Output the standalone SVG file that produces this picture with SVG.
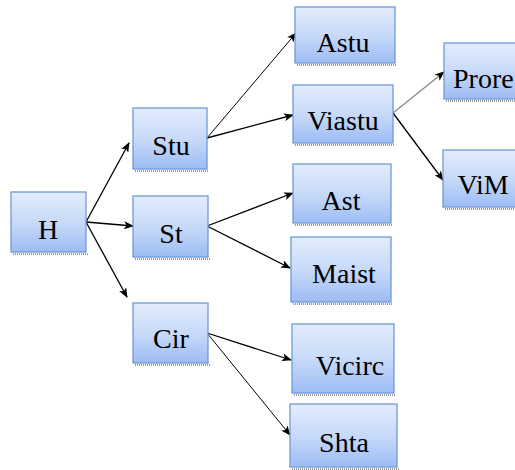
<svg xmlns="http://www.w3.org/2000/svg" width="515" height="470" viewBox="0 0 515 470">
<style>
.box{fill:url(#g);stroke:#6f9ad6;stroke-width:1.3}
.sh{fill:none;stroke:#9a9a9a;stroke-width:2;stroke-dasharray:1 1}
.t{font-family:'Liberation Serif','Times New Roman',serif;font-size:28px;fill:#000;text-anchor:middle}
.c{fill:none;stroke:#000;stroke-width:1.3;marker-end:url(#a)}
.thin{stroke-width:1}
.gray{stroke:#888}
</style>
<defs>
<linearGradient id="g" x1="0" y1="0" x2="0" y2="1">
<stop offset="0" stop-color="#e3ecfc"/>
<stop offset="0.5" stop-color="#c8daf9"/>
<stop offset="1" stop-color="#9dbcf4"/>
</linearGradient>
<marker id="a" markerUnits="userSpaceOnUse" markerWidth="10" markerHeight="8" refX="9" refY="4" orient="auto">
<path d="M0,0 L10,4 L0,8 L2.5,4 Z" fill="#000"/>
</marker>
</defs>
<g id="connectors">
<line class="c" x1="86" y1="222" x2="129" y2="143"/>
<line class="c" x1="86" y1="222" x2="133" y2="226"/>
<line class="c" x1="86" y1="222" x2="127" y2="297"/>
<line class="c thin" x1="207" y1="138" x2="296" y2="33"/>
<line class="c" x1="207" y1="138" x2="293" y2="115"/>
<line class="c gray" x1="393" y1="113" x2="444" y2="72"/>
<line class="c" x1="393" y1="113" x2="443" y2="180"/>
<line class="c" x1="207" y1="226" x2="293" y2="193"/>
<line class="c" x1="207" y1="226" x2="290" y2="268"/>
<line class="c" x1="207" y1="333" x2="291" y2="360"/>
<line class="c thin" x1="207" y1="333" x2="290" y2="435"/>
</g>
<g id="H"><line class="sh" x1="13" y1="254" x2="88" y2="254"/><rect class="box" x="11" y="192" width="75" height="60"/><text class="t" x="48" y="239">H</text></g>
<g id="Stu"><line class="sh" x1="135" y1="171" x2="209" y2="171"/><rect class="box" x="133" y="108" width="74" height="61"/><text class="t" x="171" y="155">Stu</text></g>
<g id="St"><line class="sh" x1="135" y1="259" x2="210" y2="259"/><rect class="box" x="133" y="196" width="75" height="61"/><text class="t" x="171" y="243">St</text></g>
<g id="Cir"><line class="sh" x1="135" y1="365" x2="210" y2="365"/><rect class="box" x="133" y="303" width="75" height="60"/><text class="t" x="171" y="348">Cir</text></g>
<g id="Astu"><line class="sh" x1="297" y1="65" x2="397" y2="65"/><rect class="box" x="295" y="7" width="100" height="56"/><text class="t" x="343" y="52">Astu</text></g>
<g id="Viastu"><line class="sh" x1="295" y1="145" x2="395" y2="145"/><rect class="box" x="293" y="85" width="100" height="58"/><text class="t" x="343" y="130">Viastu</text></g>
<g id="Prore"><line class="sh" x1="446" y1="101" x2="520" y2="101"/><rect class="box" x="444" y="43" width="80" height="56"/><text class="t" x="453" y="88" style="text-anchor:start">Prore</text></g>
<g id="ViM"><line class="sh" x1="445" y1="209" x2="520" y2="209"/><rect class="box" x="443" y="150" width="80" height="57"/><text class="t" x="483" y="194">ViM</text></g>
<g id="Ast"><line class="sh" x1="295" y1="225" x2="393" y2="225"/><rect class="box" x="293" y="164" width="98" height="59"/><text class="t" x="341" y="210">Ast</text></g>
<g id="Maist"><line class="sh" x1="293" y1="304" x2="393" y2="304"/><rect class="box" x="291" y="237" width="100" height="65"/><text class="t" x="344" y="283">Maist</text></g>
<g id="Vicirc"><line class="sh" x1="294" y1="395" x2="396" y2="395"/><rect class="box" x="292" y="324" width="102" height="69"/><text class="t" x="350" y="375">Vicirc</text></g>
<g id="Shta"><line class="sh" x1="292" y1="469" x2="399" y2="469"/><rect class="box" x="290" y="404" width="107" height="63"/><text class="t" x="344" y="452">Shta</text></g>
</svg>
